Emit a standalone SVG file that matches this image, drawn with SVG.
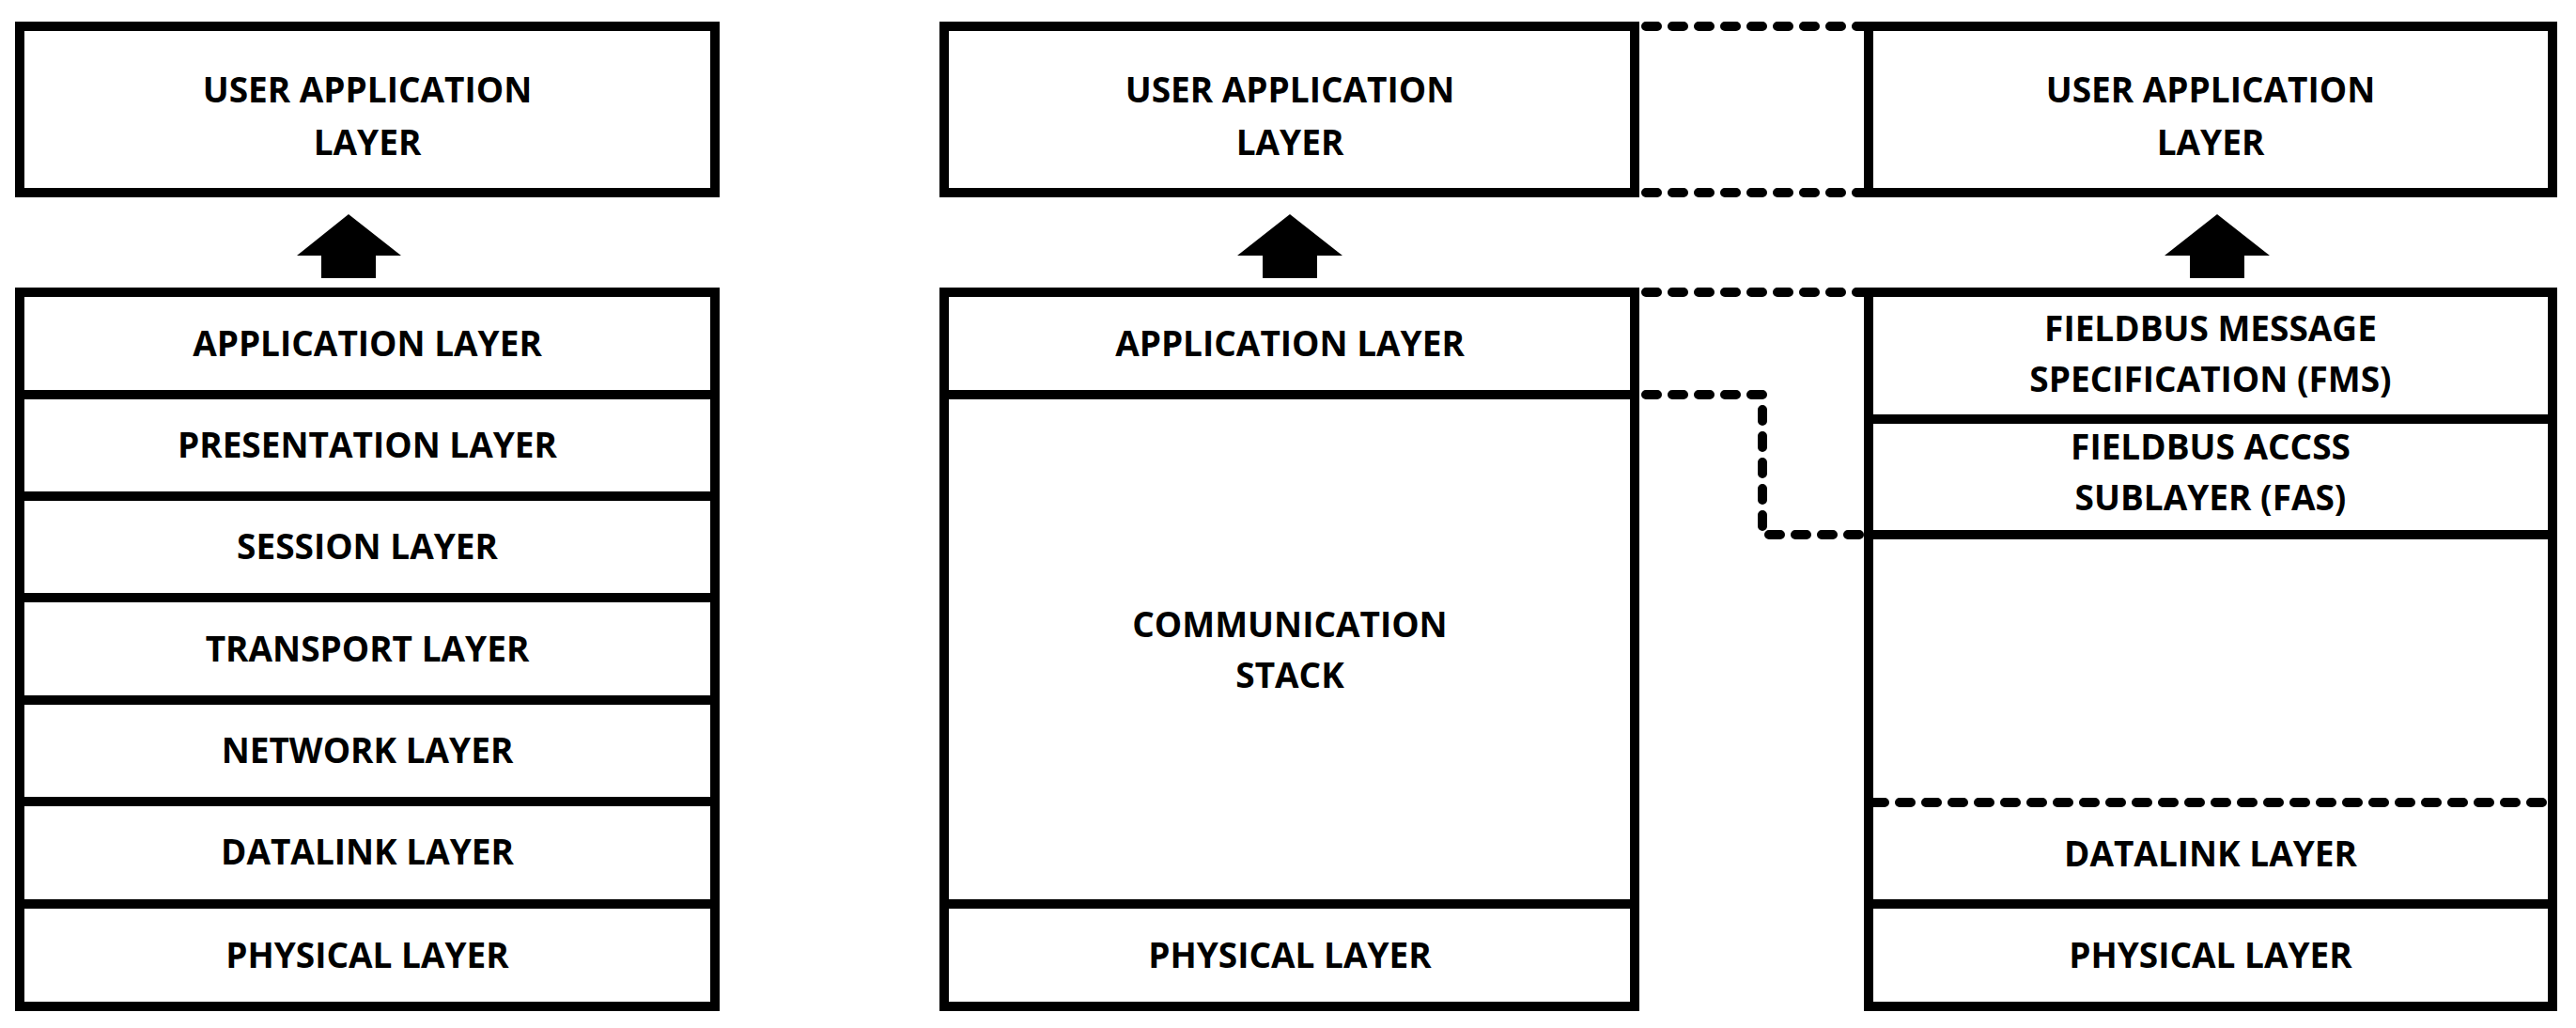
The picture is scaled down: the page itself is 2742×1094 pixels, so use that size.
<svg xmlns="http://www.w3.org/2000/svg" width="2742" height="1094" viewBox="0 0 2742 1094">
<style>
.b{fill:#fff;stroke:#000;stroke-width:10}
.l{stroke:#000;stroke-width:10;fill:none}
.d{stroke:#000;stroke-width:10;fill:none;stroke-dasharray:12 16;stroke-linecap:round}
text{font-family:"Open Sans","Liberation Sans",sans-serif;font-weight:bold;font-size:37px;text-anchor:middle;fill:#000}
.ar{fill:#000}
</style>
<rect width="2742" height="1094" fill="#fff"/>
<g id="left">
<g id="l-user"><rect class="b" x="21" y="28" width="740" height="177"/><text x="391" y="109">USER  APPLICATION</text><text x="391" y="165">LAYER</text></g>
<g id="l-stack">
<rect class="b" x="21" y="311" width="740" height="760"/>
<line class="l" x1="21" y1="420" x2="761" y2="420"/><line class="l" x1="21" y1="528" x2="761" y2="528"/>
<line class="l" x1="21" y1="636" x2="761" y2="636"/><line class="l" x1="21" y1="745" x2="761" y2="745"/>
<line class="l" x1="21" y1="853" x2="761" y2="853"/><line class="l" x1="21" y1="962" x2="761" y2="962"/>
<text x="391" y="379">APPLICATION LAYER</text><text x="391" y="487">PRESENTATION LAYER</text>
<text x="391" y="595">SESSION LAYER</text><text x="391" y="704">TRANSPORT LAYER</text>
<text x="391" y="812">NETWORK LAYER</text><text x="391" y="920">DATALINK LAYER</text>
<text x="391" y="1030">PHYSICAL LAYER</text>
</g>
</g>
<g id="middle">
<g id="m-user"><rect class="b" x="1005" y="28" width="735" height="177"/><text x="1373" y="109">USER  APPLICATION</text><text x="1373" y="165">LAYER</text></g>
<g id="m-stack">
<rect class="b" x="1005" y="311" width="735" height="760"/>
<line class="l" x1="1005" y1="420" x2="1740" y2="420"/><line class="l" x1="1005" y1="962" x2="1740" y2="962"/>
<text x="1373" y="379">APPLICATION LAYER</text>
<text x="1373" y="678">COMMUNICATION</text><text x="1373" y="732">STACK</text>
<text x="1373" y="1030">PHYSICAL LAYER</text>
</g>
</g>
<g id="right">
<g id="r-user"><rect class="b" x="1989" y="28" width="728" height="177"/><text x="2353" y="109">USER  APPLICATION</text><text x="2353" y="165">LAYER</text></g>
<g id="r-stack">
<rect class="b" x="1989" y="311" width="728" height="760"/>
<line class="l" x1="1989" y1="446" x2="2717" y2="446"/><line class="l" x1="1989" y1="569" x2="2717" y2="569"/>
<line class="d" x1="1994" y1="854" x2="2712" y2="854"/>
<line class="l" x1="1989" y1="962" x2="2717" y2="962"/>
<text x="2353" y="363">FIELDBUS MESSAGE</text><text x="2353" y="417">SPECIFICATION (FMS)</text>
<text x="2353" y="489">FIELDBUS ACCSS</text><text x="2353" y="543">SUBLAYER (FAS)</text>
<text x="2353" y="922">DATALINK LAYER</text><text x="2353" y="1030">PHYSICAL LAYER</text>
</g>
</g>
<g id="connectors">
<path class="ar" d="M371 228 L427 272 L400 272 L400 296 L342 296 L342 272 L316 272 Z"/>
<path class="ar" d="M1373 228 L1429 272 L1402 272 L1402 296 L1344 296 L1344 272 L1317 272 Z"/>
<path class="ar" d="M2360 228 L2416 272 L2389 272 L2389 296 L2331 296 L2331 272 L2304 272 Z"/>
<line class="d" x1="1752" y1="28" x2="1984" y2="28"/>
<line class="d" x1="1752" y1="205" x2="1984" y2="205"/>
<line class="d" x1="1752" y1="311" x2="1984" y2="311"/>
<path class="d" d="M1752 420 L1876 420 L1876 569 L1984 569"/>
</g>
</svg>
